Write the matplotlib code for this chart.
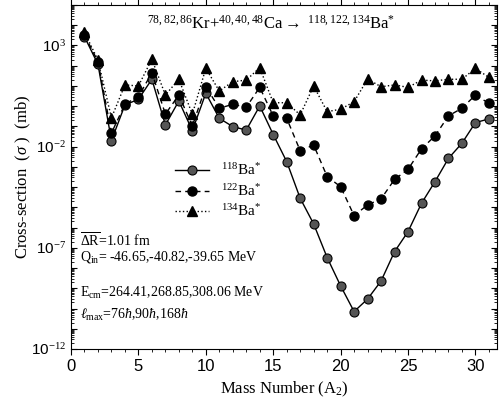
import numpy as np
import matplotlib
matplotlib.use("Agg")
import matplotlib.pyplot as plt
from matplotlib.ticker import FixedLocator, FuncFormatter, MultipleLocator

# Mass number A2
masa = list(range(1, 32))

# log10 of cross-section (mb)
log_118 = [3.43, 2.07, -1.70, 0.06, 0.34, 1.33, -0.93, 0.26, -1.21, 0.64,
           -0.60, -1.01, -1.18, 0.01, -1.40, -2.74, -4.55, -5.82, -7.48, -8.88,
           -10.15, -9.53, -8.64, -7.19, -6.20, -4.80, -3.73, -2.58, -1.83, -0.81,
           -0.63]
log_122 = [3.52, 2.20, -1.33, 0.10, 0.47, 1.65, -0.39, 0.55, -0.98, 0.96,
           -0.10, 0.09, -0.05, 0.93, -0.48, -0.60, -2.20, -1.92, -3.48, -3.98,
           -5.41, -4.88, -4.58, -3.62, -3.12, -2.11, -1.47, -0.48, -0.10, 0.55,
           0.14]
log_134 = [3.65, 2.28, -0.58, 1.05, 1.00, 2.32, 0.55, 1.33, -0.40, 1.87,
           0.75, 1.21, 1.29, 1.90, 0.17, 0.17, -0.43, 1.00, -0.27, -0.15,
           0.22, 1.34, 0.96, 1.05, 0.93, 1.29, 1.25, 1.33, 1.33, 1.87,
           1.42]

sigma_118 = 10.0 ** np.array(log_118)
sigma_122 = 10.0 ** np.array(log_122)
sigma_134 = 10.0 ** np.array(log_134)

serif = ["Liberation Serif", "DejaVu Serif"]
sans = ["Liberation Sans", "DejaVu Sans"]
plt.rcParams["mathtext.fontset"] = "custom"
plt.rcParams["mathtext.rm"] = "Liberation Serif"
plt.rcParams["mathtext.it"] = "Liberation Serif:italic"

fig = plt.figure(figsize=(5, 4), dpi=100)
ax = fig.add_axes([0.142, 0.1275, 0.852, 0.86])

ax.plot(masa, sigma_118, "-", color="black", lw=1.0, marker="o", ms=6.5,
        mfc="#555555", mec="black", mew=0.8, label=r"$^{118}$Ba$^{*}$")
ax.plot(masa, sigma_122, "--", color="black", lw=1.0, marker="o", ms=6.5,
        mfc="black", mec="black", dashes=(4, 3), label=r"$^{122}$Ba$^{*}$")
ax.plot(masa, sigma_134, ":", color="black", lw=1.0, marker="^", ms=6.5,
        mfc="black", mec="black", label=r"$^{134}$Ba$^{*}$")

ax.set_yscale("log")
ax.set_xlim(0, 31.6)
ax.set_ylim(1e-12, 1e5)

ax.xaxis.set_major_locator(MultipleLocator(5))
ax.xaxis.set_minor_locator(MultipleLocator(1))
ax.yaxis.set_major_locator(FixedLocator([10.0 ** k for k in range(-12, 6)]))
ax.yaxis.set_minor_locator(FixedLocator(
    [m * 10.0 ** k for k in range(-12, 5) for m in range(2, 10)]))


def etiqueta(v, pos):
    k = int(round(np.log10(v)))
    if (k + 12) % 5 == 0:
        return r"10$^{%d}$" % k
    return ""


ax.yaxis.set_major_formatter(FuncFormatter(etiqueta))
ax.tick_params(axis="y", which="both", direction="in", right=True)
ax.tick_params(axis="x", which="both", direction="out", top=True)
ax.tick_params(which="major", length=4)
ax.tick_params(which="minor", length=2)
for lab in ax.get_xticklabels():
    lab.set_fontfamily(sans)
    lab.set_fontsize(12)
for lab in ax.get_yticklabels():
    lab.set_fontfamily(sans)
    lab.set_fontsize(11)

ax.set_xlabel("Mass Number (A$_{2}$)", fontfamily=serif, fontsize=12)
ax.set_ylabel(r"Cross-section  ($\sigma$ )  (mb)", fontfamily=serif, fontsize=12)
ax.yaxis.set_label_coords(-0.09, 0.5)

ax.text(0.47, 0.945, r"$^{78,82,86}$Kr+$^{40,40,48}$Ca$\rightarrow$ $^{118,122,134}$Ba$^{*}$",
        transform=ax.transAxes, ha="center", va="center", fontfamily=serif, fontsize=12)

ax.text(0.021, 0.317, r"$\overline{\Delta \mathrm{R}}$=1.01 fm",
        transform=ax.transAxes, va="center", fontfamily=serif, fontsize=10)
ax.text(0.021, 0.267, r"Q$_{\mathrm{in}}$= -46.65,-40.82,-39.65 MeV",
        transform=ax.transAxes, va="center", fontfamily=serif, fontsize=10)
ax.text(0.021, 0.163, r"E$_{\mathrm{cm}}$=264.41,268.85,308.06 MeV",
        transform=ax.transAxes, va="center", fontfamily=serif, fontsize=10)
ax.text(0.021, 0.099, r"$\ell_{\mathrm{max}}$=76$\hbar$,90$\hbar$,168$\hbar$",
        transform=ax.transAxes, va="center", fontfamily=serif, fontsize=10)

leg = ax.legend(loc="upper left", bbox_to_anchor=(0.23, 0.56), frameon=False,
                handlelength=2.2, labelspacing=0.3, borderaxespad=0,
                prop={"family": serif, "size": 11})

fig.savefig("out.png", dpi=100)
